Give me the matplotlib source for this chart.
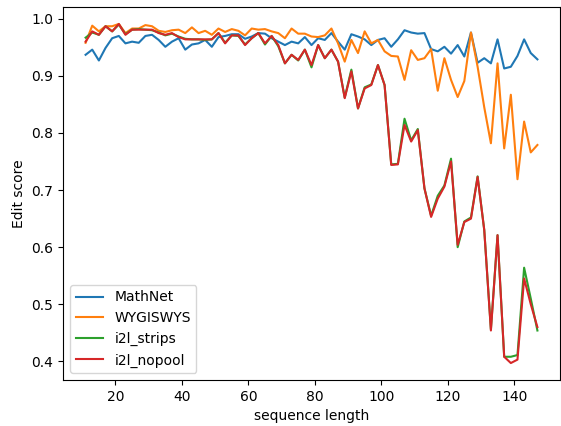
import matplotlib
matplotlib.use("Agg")
import matplotlib.pyplot as plt
import numpy as np

# sequence lengths (odd values 11..147)
seq_len = list(range(11, 148, 2))

mathnet = [0.937, 0.946, 0.927, 0.949, 0.966, 0.970, 0.957, 0.960, 0.958, 0.970,
           0.972, 0.963, 0.951, 0.960, 0.966, 0.946, 0.955, 0.957, 0.963, 0.951,
           0.968, 0.970,
           0.973, 0.973, 0.965, 0.969, 0.975, 0.974, 0.966, 0.960, 0.954, 0.960,
           0.957, 0.968, 0.954, 0.966, 0.963, 0.975, 0.960, 0.946, 0.973, 0.969,
           0.964, 0.954, 0.963, 0.966,
           0.951, 0.964, 0.980, 0.976, 0.974, 0.975, 0.947, 0.943, 0.951, 0.939,
           0.954, 0.934, 0.976, 0.923, 0.931, 0.922, 0.964, 0.913, 0.916, 0.935,
           0.964, 0.940, 0.929]

wygiswys = [0.958, 0.988, 0.978, 0.987, 0.987, 0.991, 0.975, 0.983, 0.983, 0.989,
            0.987, 0.979, 0.977, 0.980, 0.981, 0.975, 0.985, 0.975, 0.979, 0.972,
            0.983, 0.977,
            0.982, 0.979, 0.971, 0.983, 0.981, 0.982, 0.978, 0.975, 0.966, 0.983,
            0.974, 0.974, 0.969, 0.968, 0.971, 0.983, 0.957, 0.925, 0.963, 0.940,
            0.978, 0.957, 0.963, 0.943,
            0.935, 0.934, 0.893, 0.945, 0.928, 0.931, 0.947, 0.874, 0.931, 0.893,
            0.863, 0.891, 0.976, 0.916, 0.845, 0.782, 0.922, 0.773, 0.867, 0.719,
            0.820, 0.766, 0.779]

i2l_strips = [0.967, 0.976, 0.972, 0.987, 0.978, 0.990, 0.973, 0.981, 0.982, 0.981,
              0.980, 0.976, 0.971, 0.974, 0.969, 0.965, 0.964, 0.964, 0.963, 0.964,
              0.975, 0.958,
              0.971, 0.970, 0.955, 0.966, 0.975, 0.955, 0.970, 0.952, 0.922, 0.937,
              0.927, 0.946, 0.915, 0.954, 0.931, 0.946, 0.925, 0.862, 0.911, 0.843,
              0.880, 0.885, 0.919, 0.884,
              0.745, 0.746, 0.825, 0.787, 0.807, 0.703, 0.655, 0.690, 0.708, 0.755,
              0.600, 0.645, 0.652, 0.724, 0.630, 0.456, 0.621, 0.408, 0.408, 0.411,
              0.564, 0.510, 0.454]

i2l_nopool = [0.960, 0.978, 0.972, 0.987, 0.978, 0.991, 0.972, 0.981, 0.981, 0.981,
              0.981, 0.975, 0.972, 0.975, 0.968, 0.964, 0.964, 0.964, 0.964, 0.964,
              0.975, 0.957,
              0.971, 0.971, 0.954, 0.966, 0.975, 0.957, 0.970, 0.954, 0.922, 0.937,
              0.928, 0.946, 0.919, 0.954, 0.931, 0.946, 0.925, 0.861, 0.908, 0.843,
              0.878, 0.884, 0.919, 0.884,
              0.744, 0.745, 0.814, 0.785, 0.805, 0.703, 0.653, 0.685, 0.706, 0.750,
              0.604, 0.644, 0.650, 0.723, 0.630, 0.454, 0.621, 0.408, 0.397, 0.403,
              0.545, 0.500, 0.460]

series = [("MathNet", mathnet), ("WYGISWYS", wygiswys),
          ("i2l_strips", i2l_strips), ("i2l_nopool", i2l_nopool)]

fig = plt.figure(figsize=(5.61, 4.26), dpi=100)
ax = fig.add_axes([63 / 561, 46 / 426, 497 / 561, 373 / 426])

for name, vals in series:
    ax.plot(seq_len, vals, label=name)

ax.set_xlabel("sequence length")
ax.set_ylabel("Edit score")
ax.legend(loc="lower left")

fig.savefig("out.png", dpi=100)
